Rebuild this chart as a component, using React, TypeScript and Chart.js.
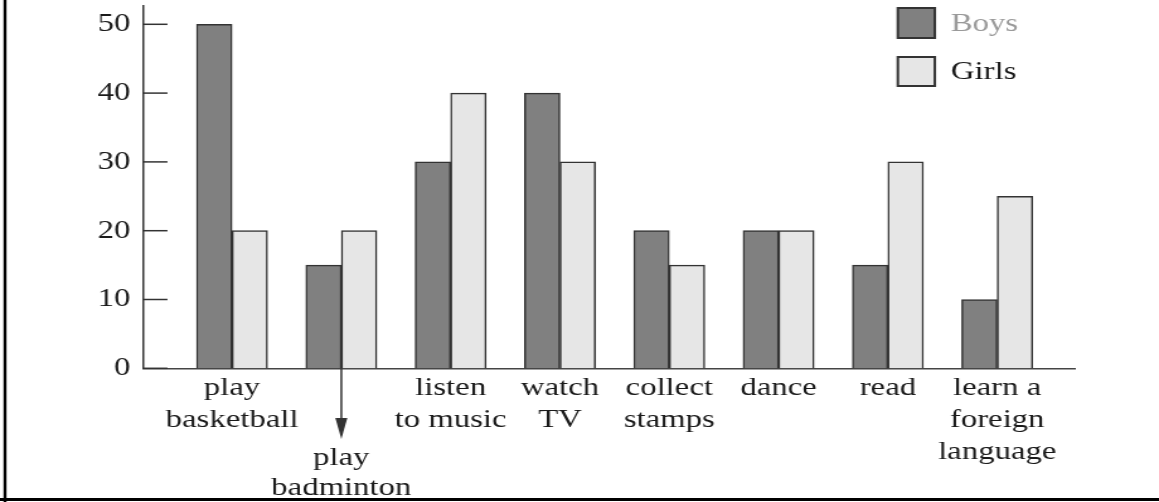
import React, { useEffect, useRef } from "react";
import { Chart, registerables } from "chart.js";

Chart.register(...registerables);

// ---- data ----
const CATEGORIES: string[][] = [
  ["play", "basketball"],
  ["play", "badminton"],
  ["listen", "to music"],
  ["watch", "TV"],
  ["collect", "stamps"],
  ["dance"],
  ["read"],
  ["learn a", "foreign", "language"],
];
const SERIES_LABELS = ["Boys", "Girls"];
const BOYS = [50, 15, 30, 40, 20, 20, 15, 10];
const GIRLS = [20, 20, 40, 30, 15, 20, 30, 25];
const Y_TICKS = [0, 10, 20, 30, 40, 50];
const ARROW_INDEX = 1; // category whose label hangs below an arrow

// ---- layout / style ----
const W = 1159;
const H = 502;
const SX = 1.26; // horizontal stretch of the original artwork
const CW = Math.round(W / SX);
const FONT_FAMILY = '"Liberation Serif", "Times New Roman", serif';
const FONT_SIZE = 26;
const TEXT = "#1a1a1a";
const LINE = "#333";
const BOYS_FILL = "#808080";
const GIRLS_FILL = "#e6e6e6";

const extrasPlugin = {
  id: "extras",
  afterDraw(chart: any) {
    const ctx = chart.ctx as CanvasRenderingContext2D;
    const xs = chart.scales.x;
    const ys = chart.scales.y;
    const area = chart.chartArea;
    ctx.save();

    // inward tick marks on the y axis
    ctx.strokeStyle = LINE;
    ctx.lineWidth = 1.5;
    Y_TICKS.forEach((v) => {
      const y = ys.getPixelForValue(v);
      ctx.beginPath();
      ctx.moveTo(area.left, y);
      ctx.lineTo(area.left + 24 / SX, y);
      ctx.stroke();
    });

    // arrow and hanging label
    const ax = xs.getPixelForValue(ARROW_INDEX);
    const tipY = 439;
    const headH = 21;
    const headW = 6 / SX;
    ctx.beginPath();
    ctx.moveTo(ax, area.bottom);
    ctx.lineTo(ax, tipY - headH + 2);
    ctx.stroke();
    ctx.fillStyle = LINE;
    ctx.beginPath();
    ctx.moveTo(ax - headW, tipY - headH);
    ctx.lineTo(ax + headW, tipY - headH);
    ctx.lineTo(ax, tipY);
    ctx.closePath();
    ctx.fill();

    ctx.font = `${FONT_SIZE}px ${FONT_FAMILY}`;
    ctx.fillStyle = TEXT;
    ctx.textAlign = "center";
    ctx.textBaseline = "middle";
    CATEGORIES[ARROW_INDEX].forEach((line, i) => {
      ctx.fillText(line, ax, 458 + i * 30);
    });

    // legend
    const ds = chart.data.datasets;
    const boxX = 898 / SX;
    const boxW = 37 / SX;
    const rows = [
      { y: 8, h: 30, ty: 24, color: "#9a9a9a" },
      { y: 57, h: 29, ty: 72, color: TEXT },
    ];
    ds.forEach((d: any, i: number) => {
      const r = rows[i];
      ctx.fillStyle = d.backgroundColor;
      ctx.fillRect(boxX, r.y, boxW, r.h);
      ctx.strokeStyle = LINE;
      ctx.lineWidth = 2;
      ctx.strokeRect(boxX, r.y, boxW, r.h);
      ctx.fillStyle = r.color;
      ctx.textAlign = "left";
      ctx.fillText(d.label, 951 / SX, r.ty);
    });

    // page frame (left and bottom)
    ctx.strokeStyle = "#000";
    ctx.lineWidth = 3 / SX;
    ctx.beginPath();
    ctx.moveTo(5 / SX, 0);
    ctx.lineTo(5 / SX, H);
    ctx.stroke();
    ctx.lineWidth = 3;
    ctx.beginPath();
    ctx.moveTo(0, 499.5);
    ctx.lineTo(CW, 499.5);
    ctx.stroke();

    ctx.restore();
  },
};

export default function App() {
  const ref = useRef<HTMLCanvasElement | null>(null);

  useEffect(() => {
    document.body.style.margin = "0";
    const canvas = ref.current;
    if (!canvas) return;
    const chart = new Chart(canvas, {
      type: "bar",
      data: {
        datasets: [
          {
            label: SERIES_LABELS[0],
            data: BOYS.map((v, i) => ({ x: i, y: v })),
            backgroundColor: BOYS_FILL,
            borderColor: LINE,
            borderWidth: 1.5,
            barThickness: 35.5 / SX,
          },
          {
            label: SERIES_LABELS[1],
            data: GIRLS.map((v, i) => ({ x: i, y: v })),
            backgroundColor: GIRLS_FILL,
            borderColor: LINE,
            borderWidth: 1.5,
            barThickness: 35.5 / SX,
          },
        ],
      },
      options: {
        animation: false,
        responsive: false,
        devicePixelRatio: 1,
        layout: { padding: { left: 0, right: CW - 1075 / SX, top: 6, bottom: 0 } },
        plugins: { legend: { display: false }, tooltip: { enabled: false } },
        scales: {
          x: {
            type: "linear",
            offset: false,
            min: -0.81,
            max: 7.71,
            grid: { display: false, drawTicks: false, offset: false },
            border: { display: true, color: "#444", width: 1.5 },
            afterBuildTicks: (s: any) => {
              s.ticks = CATEGORIES.map((_, i) => ({ value: i }));
            },
            afterFit: (s: any) => {
              s.height = H - 368.3;
              s.paddingLeft = 0;
              s.paddingRight = 0;
            },
            ticks: {
              autoSkip: false,
              maxRotation: 0,
              minRotation: 0,
              padding: 4,
              color: TEXT,
              font: { family: FONT_FAMILY, size: FONT_SIZE, lineHeight: 1.23 },
              callback: (v: any) => (v === ARROW_INDEX ? "" : CATEGORIES[v] ?? ""),
            },
          } as any,
          y: {
            min: 0,
            max: 52.66,
            grid: { display: false, drawTicks: false },
            border: { display: true, color: LINE, width: 1.5 },
            afterBuildTicks: (s: any) => {
              s.ticks = Y_TICKS.map((v) => ({ value: v }));
            },
            afterFit: (s: any) => {
              s.width = 143.5 / SX;
              s.paddingTop = 0;
              s.paddingBottom = 0;
            },
            ticks: {
              padding: 13 / SX,
              color: TEXT,
              font: { family: FONT_FAMILY, size: FONT_SIZE },
            },
          } as any,
        },
      },
      plugins: [extrasPlugin],
    });
    return () => chart.destroy();
  }, []);

  return (
    <div style={{ width: W, height: H, background: "#fff", overflow: "hidden" }}>
      <canvas
        ref={ref}
        width={CW}
        height={H}
        style={{ width: W + "px", height: H + "px", display: "block" }}
      />
    </div>
  );
}
